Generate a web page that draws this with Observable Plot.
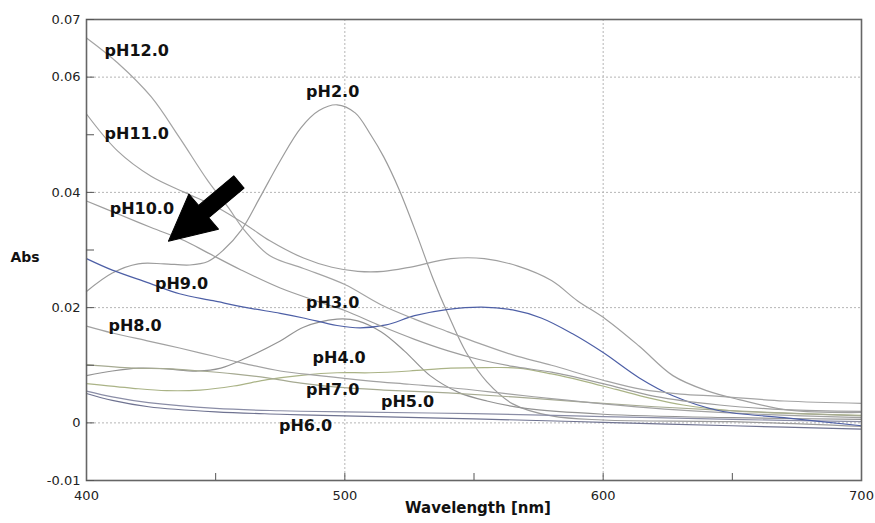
<!DOCTYPE html>
<html>
<head>
<meta charset="utf-8">
<script src="https://cdn.jsdelivr.net/npm/d3@7"></script>
<script src="https://cdn.jsdelivr.net/npm/@observablehq/plot@0.6"></script>
<style>
  html, body { margin: 0; padding: 0; background: #fff; }
  #chart svg { display: block; }
</style>
</head>
<body>
<div id="chart"></div>
<script>
// ---- data: [wavelength nm, absorbance] ----
const pH2 = [[400,.0228],[410,.026],[420,.0276],[430,.0276],[440,.0274],[447,.028],[453,.030],[460,.0335],[467,.039],[475,.0455],[483,.0512],[490,.0542],[497,.0552],[504,.0538],[510,.050],[515,.0462],[521,.0405],[528,.0325],[534,.0252],[540,.0188],[547,.0122],[555,.0071],[565,.0033],[580,.0012],[600,.0005],[650,.0002],[700,-.0006]];
const pH3 = [[400,.0082],[410,.009],[420,.0095],[430,.0094],[443,.009],[452,.0095],[462,.0113],[475,.0142],[484,.0166],[497,.018],[505,.0177],[514,.0158],[523,.0125],[533,.0082],[544,.0053],[555,.0038],[570,.0025],[600,.0015],[650,.0009],[700,.0006]];
const pH4 = [[400,.0068],[418,.006],[431,.0056],[444,.0057],[457,.0064],[470,.0075],[484,.0083],[497,.0087],[510,.0087],[525,.009],[541,.0095],[555,.0096],[567,.0095],[580,.0085],[592,.0073],[605,.0058],[618,.0043],[631,.0031],[650,.0021],[675,.0016],[700,.0013]];
const pH5 = [[400,.0055],[410,.0045],[424,.0035],[450,.0025],[475,.0021],[500,.0019],[550,.0016],[600,.0011],[650,.0006],[700,.0002]];
const pH6 = [[400,.0051],[410,.0039],[424,.0028],[450,.0019],[475,.0015],[500,.0012],[550,.0007],[600,.0001],[650,-.0005],[700,-.0011]];
const pH7 = [[400,.0101],[418,.0095],[431,.0094],[444,.009],[457,.0085],[470,.0078],[483,.0069],[497,.0062],[515,.0057],[540,.0052],[565,.0045],[590,.0037],[620,.0028],[660,.0019],[700,.0012]];
const pH8 = [[400,.0168],[410,.0156],[424,.0142],[436,.013],[449,.0116],[462,.0102],[475,.009],[490,.0082],[509,.0073],[525,.0067],[541,.0061],[560,.0052],[580,.0042],[600,.0033],[630,.0022],[660,.0015],[700,.0009]];
const pH9 = [[400,.0285],[410,.0265],[424,.0243],[436,.0224],[449,.0212],[462,.020],[475,.019],[484,.0182],[497,.0169],[506,.0165],[516,.017],[527,.0186],[540,.0197],[553,.0201],[565,.0196],[576,.0182],[588,.0155],[600,.0122],[614,.0078],[627,.0047],[645,.0021],[670,.0009],[700,-.0005]];
const pH10 = [[400,.0385],[412,.0363],[425,.0339],[438,.0316],[447,.0295],[460,.0265],[475,.0234],[490,.021],[500,.0195],[514,.0168],[527,.0145],[540,.0125],[552,.011],[565,.0098],[580,.0088],[600,.0068],[620,.0046],[645,.0031],[670,.0023],[700,.002]];
const pH11 = [[400,.0536],[412,.0472],[425,.0428],[438,.040],[451,.0373],[463,.034],[471,.0316],[484,.0286],[495,.027],[505,.0263],[515,.0263],[525,.027],[541,.0285],[554,.0285],[567,.0272],[580,.0247],[590,.0212],[601,.018],[614,.0133],[627,.0082],[640,.0056],[653,.004],[672,.0022],[700,.0018]];
const pH12 = [[400,.0668],[412,.0625],[425,.0566],[436,.0495],[447,.042],[455,.0373],[461,.0335],[471,.029],[484,.0268],[500,.024],[514,.0205],[527,.018],[540,.0158],[552,.0138],[565,.0118],[580,.01],[600,.0074],[615,.0058],[630,.005],[645,.0046],[670,.0038],[700,.0034]];

const seriesNames = ["pH2.0","pH3.0","pH4.0","pH5.0","pH6.0","pH7.0","pH8.0","pH9.0","pH10.0","pH11.0","pH12.0"];
const seriesData = [pH2, pH3, pH4, pH5, pH6, pH7, pH8, pH9, pH10, pH11, pH12];
const seriesColors = ["#9c9c9c","#939393","#aab386","#8a8da6","#6f7391","#a6aa92","#a2a2a2","#4d5fa6","#9e9e9e","#a0a0a0","#a4a4a4"];

// label anchors (left edge, vertical middle) in data units
const labelText = ["pH12.0","pH11.0","pH10.0","pH9.0","pH8.0","pH2.0","pH3.0","pH4.0","pH7.0","pH5.0","pH6.0"];
const labelNm   = [407, 407, 409, 426.5, 408.5, 485, 485, 487.5, 485, 514, 474.5];
const labelAbs  = [0.0646, 0.0502, 0.0372, 0.0241, 0.0168, 0.0575, 0.0208, 0.0113, 0.0057, 0.0036, -0.0005];

// arrow annotation: tail point in data units
const arrowTail = [{nm: 459, abs: 0.0418}];

const yLabelTicks = [0.07, 0.06, 0.04, 0.02, 0, -0.01];
const yMinorTicks = [0.07, 0.06, 0.05, 0.04, 0.03, 0.02, 0.01, 0, -0.01];
const yGrid = [0.06, 0.04, 0.02, 0];
const xLabelTicks = [400, 500, 600, 700];
const xMinorTicks = [450, 500, 550, 600, 650];
const xGrid = [500, 600];

const rows = [];
seriesData.forEach((s, i) => s.forEach(([nm, a]) => rows.push({series: seriesNames[i], nm, abs: a})));
const labels = labelText.map((t, i) => ({t, nm: labelNm[i], abs: labelAbs[i]}));

const arrowShape = {
  draw(ctx, l, r) {
    const hl = 46, hw = 23, sw = 8;
    ctx.moveTo(-sw, 0);
    ctx.lineTo(-sw, -l + hl);
    ctx.lineTo(-hw, -l + hl);
    ctx.lineTo(0, -l);
    ctx.lineTo(hw, -l + hl);
    ctx.lineTo(sw, -l + hl);
    ctx.lineTo(sw, 0);
    ctx.closePath();
  }
};

const fmt = d => d === 0 ? "0" : String(d);

const chart = Plot.plot({
  width: 875,
  height: 523,
  marginLeft: 86,
  marginRight: 14,
  marginTop: 19,
  marginBottom: 43,
  style: {fontFamily: "DejaVu Sans, sans-serif", background: "#fff"},
  x: {domain: [400, 700]},
  y: {domain: [-0.01, 0.07]},
  color: {domain: seriesNames, range: seriesColors},
  marks: [
    Plot.gridY(yGrid, {stroke: "#b5b5b5", strokeOpacity: 1, strokeDasharray: "2,2"}),
    Plot.gridX(xGrid, {stroke: "#b5b5b5", strokeOpacity: 1, strokeDasharray: "2,2"}),
    Plot.line(rows, {x: "nm", y: "abs", z: "series", stroke: "series", strokeWidth: 1.2, curve: "catmull-rom"}),
    Plot.frame({stroke: "#666", strokeWidth: 1.6}),
    Plot.axisY({ticks: yMinorTicks, tickSize: -8, tickFormat: () => "", stroke: "#555", label: null}),
    Plot.axisY({ticks: yLabelTicks, tickSize: 0, tickPadding: 6, tickFormat: fmt, fontSize: 13, fill: "#222", label: null}),
    Plot.axisX({ticks: xMinorTicks, tickSize: -7, tickFormat: () => "", stroke: "#555", label: null}),
    Plot.axisX({ticks: xLabelTicks, tickSize: 0, tickPadding: 10, fontSize: 13, fill: "#222", label: null}),
    Plot.text(labels, {x: "nm", y: "abs", text: "t", textAnchor: "start", fontSize: 16, fontWeight: "bold", fill: "#111"}),
    Plot.vector(arrowTail, {x: "nm", y: "abs", length: 92, rotate: 230, anchor: "start", shape: arrowShape, fill: "#000", stroke: "#000", strokeWidth: 1}),
    Plot.text(["Abs"], {frameAnchor: "left", dx: -76, dy: 8, textAnchor: "start", fontSize: 14, fontWeight: "bold", fill: "#111"}),
    Plot.text(["Wavelength [nm]"], {frameAnchor: "bottom", dx: 4, dy: 32, fontSize: 15, fontWeight: "bold", fill: "#111"})
  ]
});
document.getElementById("chart").appendChild(chart);
</script>
</body>
</html>
